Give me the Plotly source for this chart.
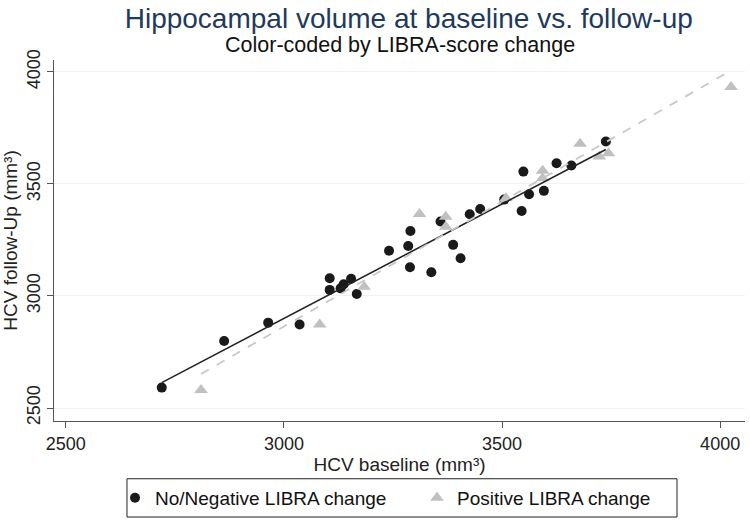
import numpy as np
import plotly.graph_objects as go

# No/Negative LIBRA change (black dots)
neg_baseline = [2720, 2863, 2964, 3036, 3105, 3105, 3130, 3137, 3154, 3167, 3241, 3285, 3289, 3290,
                3338, 3359, 3388, 3405, 3426, 3450, 3505, 3545, 3549, 3562, 3596, 3625, 3659, 3738]
neg_followup = [2591, 2799, 2881, 2873, 3079, 3027, 3034, 3052, 3077, 3009, 3202, 3223, 3128, 3290,
                3106, 3332, 3228, 3168, 3365, 3388, 3430, 3379, 3555, 3454, 3469, 3592, 3582, 3689]

# Positive LIBRA change (grey triangles)
pos_baseline = [2810, 3082, 3184, 3311, 3371, 3371, 3509, 3593, 3593, 3679, 3723, 3744, 4025]
pos_followup = [2580, 2873, 3041, 3366, 3354, 3309, 3436, 3559, 3525, 3679, 3622, 3637, 3933]

tick_vals = [2500, 3000, 3500, 4000]

FONT = "Liberation Sans, Arial, sans-serif"


def fit_line(x, y):
    b, a = np.polyfit(x, y, 1)
    xs = np.array([min(x), max(x)])
    return xs, a + b * xs


fig = go.Figure()

nx, ny = fit_line(neg_baseline, neg_followup)
px_, py_ = fit_line(pos_baseline, pos_followup)

fig.add_trace(go.Scatter(x=neg_baseline, y=neg_followup, mode="markers",
                         name="No/Negative LIBRA change",
                         marker=dict(symbol="circle", size=10, color="#1a1a1a")))
fig.add_trace(go.Scatter(x=pos_baseline, y=pos_followup, mode="markers",
                         name="Positive LIBRA change",
                         marker=dict(symbol="triangle-up", size=12, color="#c0c0c0")))
fig.add_trace(go.Scatter(x=nx, y=ny, mode="lines", showlegend=False,
                         line=dict(color="#222222", width=1.6)))
fig.add_trace(go.Scatter(x=px_, y=py_, mode="lines", showlegend=False,
                         line=dict(color="#c8c8c8", width=1.8, dash="dash")))

fig.update_layout(
    width=750, height=526,
    margin=dict(l=54, r=5, t=60, b=105),
    paper_bgcolor="white", plot_bgcolor="white",
    font=dict(family=FONT, size=18, color="#222222"),
    title=dict(text="Hippocampal volume at baseline vs. follow-up",
               x=0.545, xanchor="center", y=0.966, yanchor="middle",
               font=dict(size=28, color="#1f3a5c", family=FONT)),
    annotations=[dict(text="Color-coded by LIBRA-score change", xref="paper", yref="paper",
                      x=0.5, y=1.0, yshift=15, yanchor="middle", showarrow=False,
                      font=dict(size=21.5, color="#111111", family=FONT))],
    legend=dict(orientation="h", x=0.0883, xanchor="left", y=-0.213, yanchor="middle",
                borderwidth=0, bgcolor="rgba(0,0,0,0)",
                font=dict(size=19, color="#111111"), itemwidth=30,
                entrywidth=257, entrywidthmode="pixels",
                tracegroupgap=0),
    shapes=[dict(type="rect", xref="paper", yref="paper",
                 x0=0.1056, x1=0.9016, y0=-0.266, y1=-0.160,
                 line=dict(color="#222222", width=1), fillcolor="rgba(0,0,0,0)")],
    showlegend=True,
)

fig.update_xaxes(range=[2473, 4057], tickvals=tick_vals, showgrid=False, zeroline=False,
                 showline=True, linecolor="#555555", linewidth=1.2,
                 ticks="outside", ticklen=6, tickcolor="#555555",
                 tickfont=dict(size=18, color="#222222"),
                 title=dict(text="HCV baseline (mm³)", standoff=0,
                            font=dict(size=19, color="#222222")))
fig.update_yaxes(range=[2442, 4053], tickvals=tick_vals, showgrid=True, gridcolor="#eaf3f5",
                 gridwidth=1, zeroline=False,
                 showline=True, linecolor="#555555", linewidth=1.2,
                 ticks="outside", ticklen=6, tickcolor="#555555", tickangle=-90,
                 tickfont=dict(size=18, color="#222222"),
                 title=dict(text="HCV follow-Up (mm³)", standoff=2,
                            font=dict(size=19, color="#222222")))

fig.write_html("out.html")
